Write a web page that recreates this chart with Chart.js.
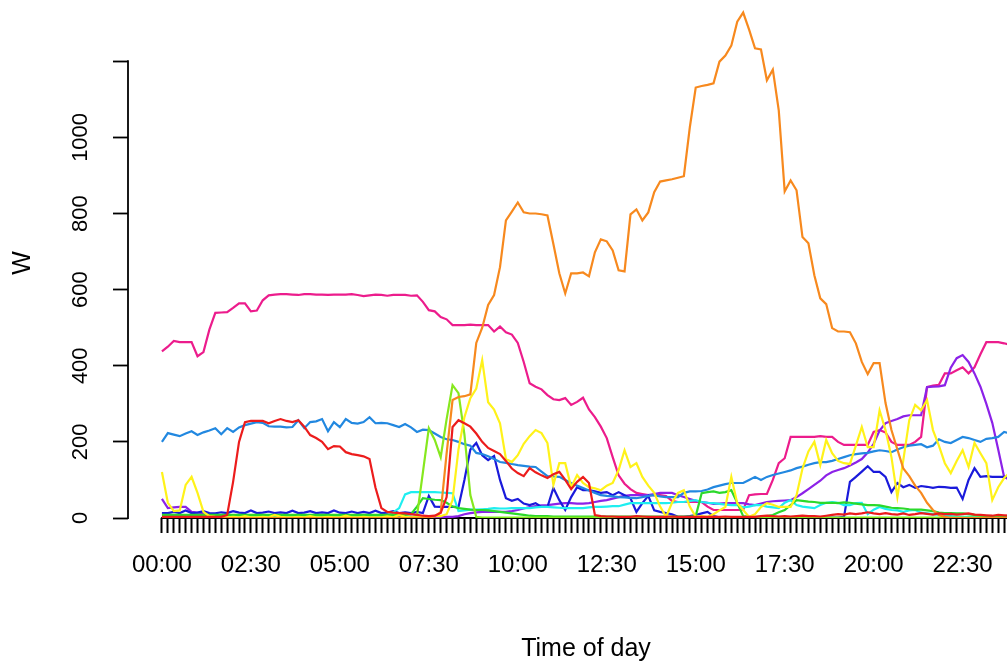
<!DOCTYPE html>
<html>
<head>
<meta charset="utf-8">
<script src="https://cdn.jsdelivr.net/npm/chart.js@4.4.1/dist/chart.umd.min.js"></script>
<style>
  html, body { margin: 0; padding: 0; background: #fff; overflow: hidden; }
  #wrap { width: 1100px; height: 664px; }
</style>
</head>
<body>
<div id="wrap"><canvas id="c" width="1100" height="664"></canvas></div>
<script>
// 10-minute slots over one day (144 slots), x = slot index
const slots = Array.from({length: 144}, (_, i) => i);
const tickLabels = ['00:00','02:30','05:00','07:30','10:00','12:30','15:00','17:30','20:00','22:30'];
const yTicks = [0, 200, 400, 600, 800, 1000, 1200];
const yLabels = ['0','200','400','600','800','1000',''];

const redW = [
  3,3,3,3,3,3,3,3,3,3,3,8,
  95,200,252,255,255,255,249,255,260,255,252,257,
  240,218,210,200,181,189,188,173,168,165,162,155,
  80,26,16,14,13,12,10,8,6,5,6,13,
  55,239,257,249,240,222,200,184,176,168,150,130,
  118,110,131,120,112,105,115,121,100,76,95,108,
  92,8,5,4,4,3,3,3,5,4,3,3,
  3,3,4,3,3,3,3,3,3,3,3,4,
  3,3,3,3,3,5,6,5,4,5,4,5,
  6,5,5,4,6,8,10,9,12,10,12,15,
  12,10,13,10,9,12,8,10,13,11,9,12,
  10,11,9,10,12,9,8,7,6,8,7,6
];
const orangeW = [
  0,0,0,0,0,0,0,0,0,0,0,0,
  0,0,0,0,0,0,0,0,0,0,0,0,
  0,0,0,0,0,0,0,0,0,0,0,0,
  0,0,0,0,0,0,0,0,0,2,5,15,
  170,310,318,320,325,460,500,560,586,659,782,805,
  829,803,800,800,798,795,720,643,590,643,643,645,
  635,698,732,727,703,651,648,798,811,782,803,856,
  884,887,890,894,898,1026,1131,1135,1138,1142,1199,1215,
  1241,1304,1328,1283,1234,1231,1150,1178,1071,858,887,861,
  738,722,638,577,562,499,490,490,488,459,410,378,
  407,407,302,231,180,130,110,85,66,40,21,8,
  3,0,0,0,0,0,0,0,0,0,0,0
];
const yellowW = [
  121,40,18,20,87,108,66,16,5,3,2,2,
  3,2,5,2,2,3,2,8,3,2,2,3,
  2,5,2,2,3,2,2,6,2,2,3,2,
  2,2,4,2,8,3,2,2,3,2,5,5,
  10,47,180,265,315,340,415,304,285,249,155,147,
  165,195,215,231,223,197,87,144,144,81,113,92,
  81,78,73,85,92,126,178,134,144,108,85,66,
  30,3,40,66,73,30,3,5,3,10,20,29,
  108,39,21,3,10,29,39,35,29,29,29,60,
  130,175,200,139,205,170,150,144,142,190,239,186,
  186,283,231,160,55,152,257,297,283,310,231,190,
  144,118,150,178,134,197,170,144,47,81,105,120
];
const chartreuseW = [
  1,1,1,1,1,1,1,1,1,1,1,1,
  1,1,1,1,1,1,1,1,1,1,1,1,
  1,1,1,1,1,1,1,1,1,1,1,1,
  1,1,1,1,1,1,1,5,120,236,205,160,
  260,349,328,220,60,3,1,1,1,1,1,1,
  1,1,1,1,1,1,1,1,1,1,1,1,
  1,1,1,1,1,1,1,1,1,1,1,1,
  1,1,1,1,1,1,1,1,1,1,1,1,
  1,1,1,1,1,1,1,1,1,1,1,1,
  1,1,1,1,1,1,1,1,1,1,1,1,
  1,1,1,1,1,1,1,1,1,1,1,1,
  1,1,1,1,1,1,1,1,1,1,1,1
];
const greenW = [
  8,8,8,8,8,8,8,8,8,8,8,8,
  8,8,8,8,8,8,8,8,8,8,8,8,
  8,8,8,8,8,8,8,8,8,8,8,8,
  8,8,8,8,8,8,10,30,52,50,48,47,
  40,30,26,24,22,21,21,20,18,16,14,12,
  10,8,6,5,5,5,4,4,4,4,4,4,
  4,4,4,4,4,4,4,4,4,4,4,4,
  4,4,4,4,4,4,5,65,68,70,66,68,
  73,40,5,3,3,3,5,8,15,21,34,47,
  45,43,42,40,40,40,39,41,40,38,36,34,
  34,33,30,27,26,25,23,22,22,20,18,14,
  13,13,12,12,10,8,6,5,4,4,4,4
];
const cyanW = [
  3,3,3,3,3,3,3,3,3,3,3,3,
  3,3,3,3,3,3,3,3,3,3,3,3,
  3,3,3,3,3,3,3,3,3,3,3,3,
  3,3,5,15,26,62,68,68,68,68,68,67,
  66,65,18,20,22,22,23,24,26,25,25,26,
  26,26,26,28,29,29,28,27,26,26,26,26,
  28,29,29,30,31,31,35,39,39,39,39,39,
  39,39,40,42,42,45,47,42,40,39,37,35,
  34,34,28,30,34,34,30,28,26,40,47,34,
  30,28,26,34,40,42,40,34,34,39,40,10,
  22,29,24,21,20,16,20,21,14,12,10,8,
  6,5,4,3,3,3,3,3,3,3,3,3
];
const skyBlueW = [
  200,223,219,215,222,228,218,225,230,236,220,236,
  226,238,244,248,252,250,241,240,240,238,239,257,
  236,252,254,260,228,252,239,260,250,248,252,265,
  249,250,249,244,239,247,238,226,232,231,222,213,
  207,205,200,194,190,171,168,162,155,147,145,142,
  139,137,135,134,122,110,109,108,100,92,85,79,
  72,66,60,58,57,55,54,53,52,55,58,60,
  57,55,55,55,66,70,70,71,75,81,85,89,
  92,92,92,100,108,100,108,113,117,121,125,131,
  135,140,144,147,147,150,155,160,165,168,170,171,
  175,178,176,173,180,186,190,192,194,186,190,207,
  200,197,205,213,210,205,200,208,210,213,226,222
];
const blueW = [
  13,13,16,13,20,13,14,18,13,12,15,13,
  18,14,13,20,13,14,17,13,15,13,19,13,
  14,18,13,15,13,20,14,13,17,13,16,13,
  19,13,14,18,13,15,13,16,13,58,30,29,
  29,29,29,100,180,197,165,152,163,100,52,45,
  50,38,34,39,29,29,79,47,21,55,81,73,
  73,70,66,68,60,68,60,52,16,39,58,20,
  16,13,10,3,3,5,8,12,16,5,2,1,
  1,1,1,1,1,1,1,1,1,1,1,1,
  1,1,1,1,1,1,1,3,95,108,122,136,
  121,121,108,68,92,81,87,79,84,82,79,82,
  81,79,80,50,100,131,108,110,108,108,108,108
];
const purpleW = [
  50,26,28,29,29,16,14,13,8,5,3,3,
  3,3,3,3,3,3,3,3,3,3,3,3,
  3,3,3,3,3,3,3,3,3,3,3,3,
  3,3,3,3,3,3,3,3,3,3,3,3,
  3,3,5,10,13,15,16,16,16,16,16,18,
  21,25,29,31,33,34,36,38,39,39,38,38,
  39,42,45,47,51,55,58,60,60,60,60,63,
  66,66,66,60,55,50,45,42,40,37,38,39,
  39,39,39,36,34,38,42,44,45,46,47,55,
  65,76,87,98,112,121,126,131,138,146,155,172,
  195,230,249,255,260,267,270,270,270,344,345,346,
  349,395,420,428,410,380,345,300,250,180,108,100
];
const pinkW = [
  438,450,465,462,462,462,425,436,495,539,540,541,
  552,564,564,543,545,572,585,587,588,588,587,586,
  588,588,587,587,586,587,587,587,588,586,583,585,
  587,586,584,586,586,586,584,585,568,546,543,528,
  522,507,507,507,508,507,507,507,490,503,488,482,
  460,410,354,345,338,323,312,310,315,297,305,316,
  285,265,240,210,160,112,90,76,66,63,60,60,
  60,58,45,42,42,42,42,42,30,21,21,21,
  21,21,21,60,62,63,63,100,144,157,213,213,
  213,213,213,215,213,213,200,192,192,192,192,192,
  226,231,225,200,192,192,192,200,213,344,348,350,
  380,380,388,396,380,396,430,462,462,462,459,455
];

const seriesList = [
  {name: 'red', values: redW, color: '#EC1C1C'},
  {name: 'orange', values: orangeW, color: '#F7891E'},
  {name: 'yellow', values: yellowW, color: '#FFF21A'},
  {name: 'chartreuse', values: chartreuseW, color: '#86E81E'},
  {name: 'green', values: greenW, color: '#2BD92B'},
  {name: 'cyan', values: cyanW, color: '#1EEEF0'},
  {name: 'skyblue', values: skyBlueW, color: '#2288E0'},
  {name: 'blue', values: blueW, color: '#1A1ADB'},
  {name: 'purple', values: purpleW, color: '#8C22E8'},
  {name: 'pink', values: pinkW, color: '#EC1C8C'}
];

const FONT = '"Liberation Sans", Arial, Helvetica, sans-serif';

const axisLines = {
  id: 'axisLines',
  beforeDatasetsDraw(chart) {
    const {ctx, scales: {x, y}} = chart;
    ctx.save();
    ctx.strokeStyle = '#000';
    ctx.lineWidth = 2;
    ctx.beginPath();
    ctx.moveTo(x.getPixelForValue(slots[0]) - 1, y.bottom);
    ctx.lineTo(x.getPixelForValue(slots[slots.length - 1]) + 1, y.bottom);
    ctx.stroke();
    ctx.lineWidth = 1.8;
    ctx.beginPath();
    ctx.moveTo(x.left, y.getPixelForValue(yTicks[0]) + 1);
    ctx.lineTo(x.left, y.getPixelForValue(yTicks[yTicks.length - 1]) - 1);
    ctx.stroke();
    ctx.restore();
  }
};

new Chart(document.getElementById('c'), {
  type: 'line',
  data: {
    datasets: seriesList.map(s => ({
      label: s.name,
      data: s.values.map((v, i) => ({x: slots[i], y: v})),
      borderColor: s.color,
      backgroundColor: s.color,
      borderWidth: 2.2,
      pointRadius: 0,
      tension: 0,
      fill: false
    }))
  },
  options: {
    responsive: false,
    animation: false,
    events: [],
    layout: {padding: {top: 8, left: 0, right: 56, bottom: 0}},
    plugins: {legend: {display: false}, tooltip: {enabled: false}},
    scales: {
      x: {
        type: 'linear',
        min: -5.72,
        max: 148.72,
        afterBuildTicks: a => { a.ticks = slots.map(v => ({value: v})); },
        afterFit: s => { s.height = 146; s.paddingLeft = 0; s.paddingRight = 0; },
        border: {display: false},
        grid: {drawOnChartArea: false, tickLength: 15, tickWidth: 2, tickColor: '#000'},
        ticks: {
          autoSkip: false, maxRotation: 0, minRotation: 0, padding: 18,
          color: '#000', font: {family: FONT, size: 24},
          callback: v => (v % 15 === 0 ? tickLabels[v / 15] : '')
        },
        title: {display: true, text: 'Time of day', color: '#000', font: {family: FONT, size: 25}, padding: {top: 0, bottom: 0}}
      },
      y: {
        type: 'linear',
        min: 0,
        max: 1340,
        afterBuildTicks: a => { a.ticks = yTicks.map(v => ({value: v})); },
        afterFit: s => { s.width = 128; s.paddingTop = 0; s.paddingBottom = 0; },
        border: {display: false},
        grid: {drawOnChartArea: false, tickLength: 15, tickWidth: 1.8, tickColor: '#000'},
        ticks: {
          minRotation: 90, maxRotation: 90, crossAlign: 'center', padding: 8,
          color: '#000', font: {family: FONT, size: 22},
          callback: v => yLabels[yTicks.indexOf(v)]
        },
        title: {display: true, text: 'W', color: '#000', font: {family: FONT, size: 25}, padding: {top: 8, bottom: 0}}
      }
    }
  },
  plugins: [axisLines]
});
</script>
</body>
</html>
